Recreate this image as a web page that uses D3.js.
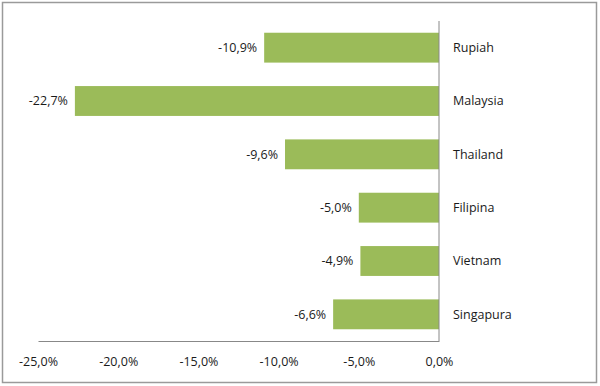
<!DOCTYPE html>
<html>
<head>
<meta charset="utf-8">
<script src="https://cdn.jsdelivr.net/npm/d3@7"></script>
<style>
	body { margin: 0; background: #fff; }
	text { font-family: "Open Sans", "DejaVu Sans", sans-serif; font-size: 12.5px; fill: #1a1a1a; }
</style>
</head>
<body>
<div id="graphicContainer"></div>
<script>
var countries = ["Rupiah", "Malaysia", "Thailand", "Filipina", "Vietnam", "Singapura"]
var changes = [-10.9, -22.7, -9.6, -5.0, -4.9, -6.6]
var ticks = [-25, -20, -15, -10, -5, 0]

var width = 600
var height = 386
var margin = {top: 21, right: 161, bottom: 45, left: 38}

var svg = d3.select("#graphicContainer").append("svg")
	.attr("width", width)
	.attr("height", height)

// chart frame
svg.append("rect")
	.attr("x", 2.5).attr("y", 2.5)
	.attr("width", 594).attr("height", 380)
	.attr("fill", "none")
	.attr("stroke", "#9a9a9a")
	.attr("stroke-width", 1.5)

var x = d3.scaleLinear().domain([-25, 0]).range([margin.left, width - margin.right])
var y = d3.scaleBand().domain(countries).range([margin.top, height - margin.bottom]).paddingInner(0.44).paddingOuter(0.22)

function fmt(d) { return d.toFixed(1).replace(".", ",") + "%" }

svg.selectAll(".bar")
	.data(countries)
	.enter().append("rect")
	.attr("class", "bar")
	.attr("x", function(d, i) { return x(changes[i]) })
	.attr("y", function(d) { return y(d) })
	.attr("width", function(d, i) { return x(0) - x(changes[i]) })
	.attr("height", y.bandwidth())
	.attr("fill", "#9bbb59")

svg.selectAll(".val")
	.data(countries)
	.enter().append("text")
	.attr("class", "val")
	.attr("x", function(d, i) { return x(changes[i]) - 7 })
	.attr("y", function(d) { return y(d) + y.bandwidth() / 2 })
	.attr("dy", "0.35em")
	.attr("text-anchor", "end")
	.text(function(d, i) { return fmt(changes[i]) })

svg.selectAll(".cat")
	.data(countries)
	.enter().append("text")
	.attr("class", "cat")
	.attr("x", x(0) + 14)
	.attr("y", function(d) { return y(d) + y.bandwidth() / 2 })
	.attr("dy", "0.35em")
	.text(function(d) { return d })

// axes
var xAxis = d3.axisBottom(x).tickValues(ticks).tickSize(0).tickPadding(16).tickFormat(fmt)
var gx = svg.append("g")
	.attr("transform", "translate(0," + (height - margin.bottom) + ")")
	.call(xAxis)
gx.select(".domain").attr("stroke", "#888")
gx.selectAll("text").attr("fill", "#1a1a1a").style("font-size", "12.5px")

svg.append("line")
	.attr("x1", x(0)).attr("x2", x(0))
	.attr("y1", margin.top).attr("y2", height - margin.bottom)
	.attr("stroke", "#888")
</script>
</body>
</html>
